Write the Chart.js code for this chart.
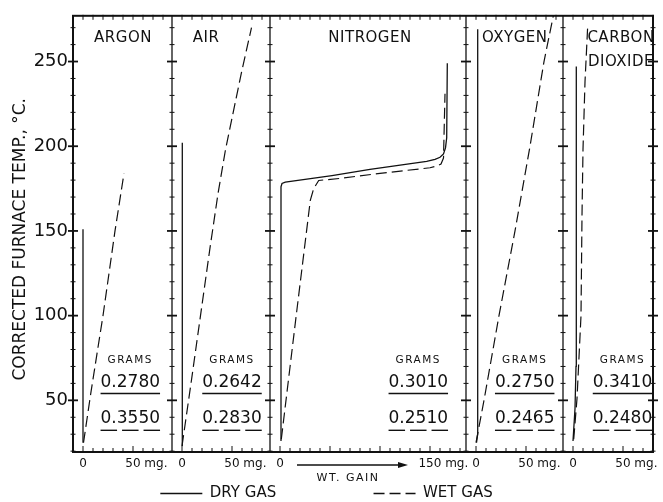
<!DOCTYPE html>
<html>
<head>
<meta charset="utf-8">
<script src="https://cdn.jsdelivr.net/npm/chart.js@4.4.1/dist/chart.umd.min.js"></script>
<style>
  html, body { margin: 0; padding: 0; background: #fff; }
</style>
</head>
<body>
<canvas id="chart" width="663" height="502"></canvas>
<script>
// panels, left to right
const gasNames = [["ARGON"], ["AIR"], ["NITROGEN"], ["OXYGEN"], ["CARBON", "DIOXIDE"]];
const dryGrams = ["0.2780", "0.2642", "0.3010", "0.2750", "0.3410"];
const wetGrams = ["0.3550", "0.2830", "0.2510", "0.2465", "0.2480"];

// weight gain axis of each panel (mg)
const panelMin = [-10, -10, -10, -10, -10];
const panelMax = [89, 88, 186, 87, 80];
const endTickValues = [50, 50, 150, 50, 50];
const endTickLabels = ["50 mg.", "50 mg.", "150 mg.", "50 mg.", "50 mg."];

// temperature axis (°C)
const tempMin = 19.5;
const tempMax = 277;

// [weight gain mg, corrected furnace temp °C]
const argonDry = [[0, 25], [0, 151]];
const argonWet = [[0.5, 25], [8, 55], [20, 100], [32, 150], [41, 184]];
const airDry = [[0.3, 23], [0.3, 202]];
const airWet = [[0, 23], [9, 60], [18.5, 100], [28, 140], [36, 172], [43.5, 198], [50.5, 218], [60, 245], [69.5, 270]];
const nitrogenDry = [[1, 26], [1, 176], [2, 178], [5.3, 178.8], [52, 182.7], [90, 186.3], [146.7, 191],
  [155, 192.3], [160, 193.5], [163.5, 195.5], [165.5, 199], [166.7, 205], [167.3, 249]];
const nitrogenWet = [[1.3, 27], [16.2, 100], [30.3, 168], [33.7, 175], [38.7, 179.8], [60, 181], [100, 184],
  [150, 187.3], [157, 188.3], [161, 189.5], [163.5, 193], [165, 231]];
const oxygenDry = [[0.5, 25], [1.7, 30], [1.7, 269]];
const oxygenWet = [[0, 25], [8, 50], [23, 100], [39, 150], [54, 200], [68, 250], [77.3, 277]];
const co2Dry = [[0, 26], [2, 45], [3, 70], [3.3, 247]];
const co2Wet = [[0.7, 27], [4, 51], [8, 100], [9, 159], [10, 198], [12, 238], [14.7, 271]];

const series = [[argonDry, argonWet], [airDry, airWet], [nitrogenDry, nitrogenWet], [oxygenDry, oxygenWet], [co2Dry, co2Wet]];

const ink = "#111";
const family = '"DejaVu Sans", sans-serif';
const ids = ["xAr", "xAir", "xN2", "xO2", "xCO2"];
const wetDash = [11, 5];

// where the texts sit inside each panel (mg, °C)
const spots = {
  nameX: [40, 24, 90, 38.7, 48],
  nameY: 264,
  gramsX: [47.3, 50, 138.3, 48.7, 49.5],
  gramsY: 73.6,
  dryY: 60.2,
  dryLineY: 54,
  wetY: 39.2,
  wetLineY: 32.3
};

const datasets = [];
series.forEach(([dry, wet], i) => {
  datasets.push({
    label: "DRY GAS",
    data: dry.map(([x, y]) => ({ x, y })),
    xAxisID: ids[i], yAxisID: "y",
    borderColor: ink, borderWidth: 1.3,
    showLine: true, pointRadius: 0
  });
  datasets.push({
    label: "WET GAS",
    data: wet.map(([x, y]) => ({ x, y })),
    xAxisID: ids[i], yAxisID: "y",
    borderColor: ink, borderWidth: 1.2, borderDash: wetDash,
    showLine: true, pointRadius: 0
  });
});

const tickPad = " ".repeat(7);
const scales = {
  y: {
    position: "left",
    min: tempMin, max: tempMax,
    grid: { display: false, drawTicks: false },
    border: { display: false },
    ticks: {
      stepSize: 10, includeBounds: false, autoSkip: false, padding: 5,
      color: ink, font: { family, size: 18 },
      callback: v => (Math.round(v) % 50 === 0 ? Math.round(v) : "")
    },
    title: {
      display: true, text: "CORRECTED FURNACE TEMP., °C.  ",
      color: ink, font: { family, size: 17 }, padding: { top: 10, bottom: 0 }
    },
    afterFit: s => { s.width = 73; }
  }
};
ids.forEach((id, i) => {
  scales[id] = {
    type: "linear", position: "bottom",
    stack: "panels", stackWeight: panelMax[i] - panelMin[i],
    min: panelMin[i], max: panelMax[i],
    grid: { display: false, drawTicks: false },
    border: { display: false },
    ticks: {
      stepSize: 10, includeBounds: false, autoSkip: false, maxRotation: 0, padding: 5,
      color: ink, font: { family, size: 12 },
      callback: v => (v === 0 ? "0" : v === endTickValues[i] ? tickPad + endTickLabels[i] : "")
    },
    afterFit: s => { s.height = 32; }
  };
});

function line(ctx, x1, y1, x2, y2) {
  ctx.beginPath();
  ctx.moveTo(x1, y1);
  ctx.lineTo(x2, y2);
  ctx.stroke();
}

function write(ctx, str, x, y, size, spacing) {
  ctx.font = size + "px " + family;
  ctx.letterSpacing = (spacing || 0) + "px";
  ctx.fillText(str, x, y);
  return ctx.measureText(str).width;
}

// frame, panel dividers, tick crosses and the texts inside the panels
const paperPlugin = {
  id: "paper",
  afterDraw(chart) {
    const { ctx, chartArea: a } = chart;
    const y = chart.scales.y;
    ctx.save();
    ctx.strokeStyle = ink;
    ctx.fillStyle = ink;

    ctx.lineWidth = 2;
    ctx.strokeRect(a.left, a.top, a.right - a.left, a.bottom - a.top);
    const edges = [a.left];
    ids.slice(1).forEach(id => edges.push(chart.scales[id].left));
    edges.push(a.right);
    ctx.lineWidth = 1.3;
    edges.slice(1, -1).forEach(x => line(ctx, x, a.top, x, a.bottom));

    y.ticks.forEach(t => {
      const v = Math.round(t.value);
      if (v % 10 !== 0) return;
      const py = y.getPixelForValue(v);
      const major = v % 50 === 0;
      const h = major ? 5 : 2.5;
      ctx.lineWidth = major ? 1.8 : 1;
      edges.forEach(x => line(ctx, x - h, py, x + h, py));
    });

    ctx.lineWidth = 1;
    ids.forEach(id => {
      const s = chart.scales[id];
      s.ticks.forEach(t => {
        const v = Math.round(t.value);
        if (v % 10 !== 0) return;
        const px = s.getPixelForValue(v);
        if (px - s.left < 3) return;
        const h = v % 50 === 0 ? 6 : 4;
        line(ctx, px, a.bottom - h, px, a.bottom + 1);
        line(ctx, px, a.top - 1, px, a.top + 4);
      });
    });

    ctx.textAlign = "center";
    ctx.textBaseline = "middle";
    ids.forEach((id, i) => {
      const s = chart.scales[id];
      const nx = s.getPixelForValue(spots.nameX[i]);
      gasNames[i].forEach((name, k) => {
        write(ctx, name, nx, y.getPixelForValue(spots.nameY) + k * 24, 15, 0.5);
      });

      const gx = s.getPixelForValue(spots.gramsX[i]);
      write(ctx, "GRAMS", gx, y.getPixelForValue(spots.gramsY), 10.5, 1.5);
      const w1 = write(ctx, dryGrams[i], gx, y.getPixelForValue(spots.dryY), 17, 0);
      const w2 = write(ctx, wetGrams[i], gx, y.getPixelForValue(spots.wetY), 17, 0);

      ctx.lineWidth = 1.4;
      const uy1 = y.getPixelForValue(spots.dryLineY);
      line(ctx, gx - w1 / 2, uy1, gx + w1 / 2, uy1);
      const uy2 = y.getPixelForValue(spots.wetLineY);
      const gap = 5;
      const dash = (w2 - 2 * gap) / 3;
      for (let k = 0; k < 3; k++) {
        const x0 = gx - w2 / 2 + k * (dash + gap);
        line(ctx, x0, uy2, x0 + dash, uy2);
      }
    });

    // weight gain arrow under the nitrogen panel
    const n = chart.scales.xN2;
    const ay = a.bottom + 13;
    const ax1 = n.getPixelForValue(17);
    const ax2 = n.getPixelForValue(128);
    ctx.lineWidth = 1.3;
    line(ctx, ax1, ay, ax2 - 6, ay);
    ctx.beginPath();
    ctx.moveTo(ax2, ay);
    ctx.lineTo(ax2 - 10, ay - 3);
    ctx.lineTo(ax2 - 10, ay + 3);
    ctx.closePath();
    ctx.fill();
    write(ctx, "WT. GAIN", n.getPixelForValue(68), a.bottom + 26, 11, 1.5);

    ctx.restore();
  }
};

new Chart(document.getElementById("chart"), {
  type: "scatter",
  data: { datasets },
  options: {
    responsive: false,
    animation: false,
    layout: { padding: { left: 0, right: 10, top: 15, bottom: 0 } },
    scales,
    plugins: {
      tooltip: { enabled: false },
      legend: {
        position: "bottom",
        maxHeight: 18,
        labels: {
          usePointStyle: true, pointStyle: "line", pointStyleWidth: 42,
          padding: 2, color: ink, font: { family, size: 15 },
          generateLabels(chart) {
            const items = Chart.defaults.plugins.legend.labels.generateLabels(chart);
            items.forEach(item => {
              const ds = chart.data.datasets[item.datasetIndex];
              item.lineDash = ds.borderDash || [];
              item.lineWidth = 1.3;
              if (item.datasetIndex === 0) item.text = item.text + " ".repeat(20);
            });
            return items;
          },
          filter: item => item.datasetIndex < 2
        }
      }
    }
  },
  plugins: [paperPlugin]
});
</script>
</body>
</html>
